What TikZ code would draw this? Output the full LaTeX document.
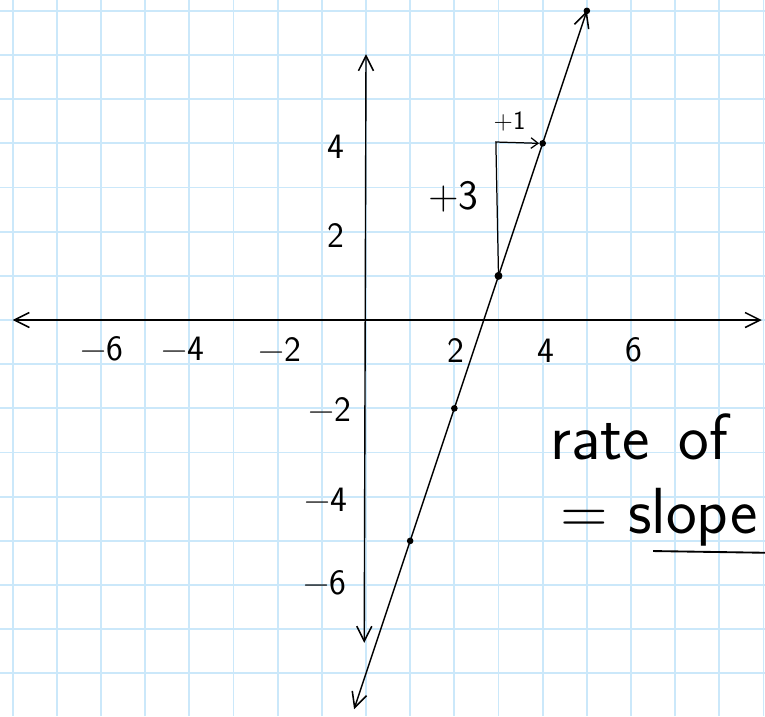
\documentclass[tikz,border=0pt]{standalone}
\usepackage{fontspec}
\usepackage{tikz}
\usetikzlibrary{arrows.meta}

\definecolor{gridblue}{RGB}{203,232,250}

\tikzset{
  barb/.tip={Straight Barb[length=3.4mm,width=3.4mm,line width=1pt]},
  axis/.style={line width=0.9pt, barb-barb},
  ink/.style={font=\sffamily\fontsize{23}{28}\selectfont, inner sep=0pt},
  dot/.style={circle, fill, inner sep=0pt, minimum size=1.5mm},
}

\begin{document}
\begin{tikzpicture}
\useasboundingbox (-8.286,-8.965) rectangle (9.033,7.245);
\draw[gridblue, line width=1.2pt] (-8.286,-8.965) grid (9.033,7.245);

% axes
\coordinate (W) at (-8,0);
\coordinate (E) at (8.96,0);
\coordinate (N) at (0,6.02);
\coordinate (S) at (-0.04,-7.31);
\draw[axis] (W) -- (E);
\draw[axis] (S) -- (N);

% tick labels
\node[ink] (xm6) at (-5.98,-0.64) {−6};
\node[ink] (xm4) at (-4.14,-0.66) {−4};
\node[ink] (xm2) at (-1.95,-0.66) {−2};
\node[ink] (x2) at (2.04,-0.68) {2};
\node[ink] (x4) at (4.08,-0.70) {4};
\node[ink] (x6) at (6.07,-0.68) {6};
\node[ink] (y4) at (-0.68,3.92) {4};
\node[ink] (y2) at (-0.68,1.92) {2};
\node[ink] (ym2) at (-0.82,-2.03) {−2};
\node[ink] (ym4) at (-0.90,-4.08) {−4};
\node[ink] (ym6) at (-0.93,-5.95) {−6};

% points on the line
\node[dot] (P1) at (1,-5) {};
\node[dot] (P2) at (2,-2) {};
\node[dot, minimum size=1.8mm] (P3) at (3,1) {};
\node[dot] (P4) at (4,4) {};
\node[dot] (P5) at (5,7) {};
\coordinate (L) at (-0.27,-8.81);
\draw[axis] (L) -- (P5.center);

% rise and run
\coordinate (C) at (2.94,4.03);
\draw[line width=0.8pt, -{Straight Barb[length=1.6mm,width=2.4mm]}] (P3.center) -- (C) -- (P4.west);
\node[ink, font=\sffamily\fontsize{27}{30}\selectfont] (rise) at (1.98,2.79) {+3};
\node[ink, font=\sffamily\fontsize{17}{20}\selectfont] (run) at (3.25,4.5) {+1};

% note
\node[ink, font=\sffamily\fontsize{42}{48}\selectfont, anchor=base west] (rate) at (4.17,-3.15) {rate\hspace{0.65cm}of};
\node[ink, font=\sffamily\fontsize{42}{48}\selectfont, anchor=base west] (slope) at (4.39,-4.84) {= slope};
\coordinate (U1) at (6.5,-5.23);
\coordinate (U2) at (9.1,-5.27);
\draw[line width=1.2pt] (U1) -- (U2);
\end{tikzpicture}
\end{document}
